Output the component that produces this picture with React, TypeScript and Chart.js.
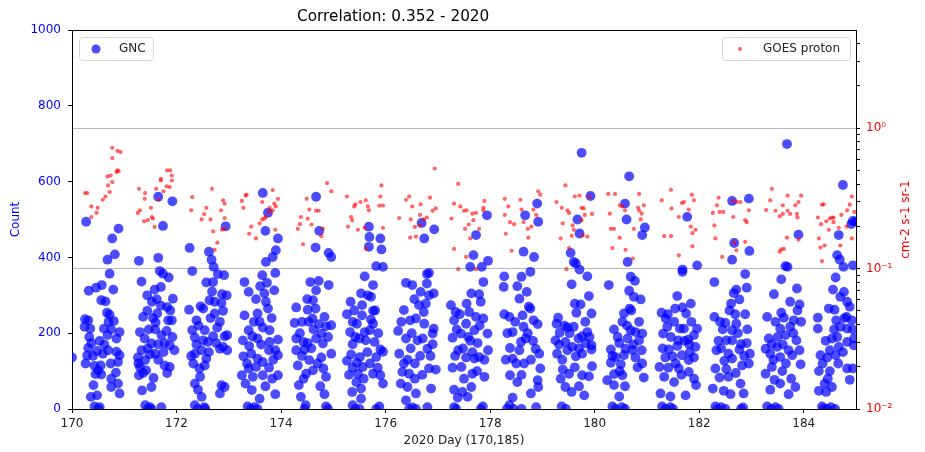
import { useEffect, useRef } from "react";
import { Chart, registerables } from "chart.js";

Chart.register(...registerables);

// Axis ticks
const dayTicks = [170, 172, 174, 176, 178, 180, 182, 184];
const countTicks = [0, 200, 400, 600, 800, 1000];
const fluxDecades = [0.01, 0.1, 1];
const fluxDecadeLabels = ["10⁻²", "10⁻¹", "10⁰"];
const fluxMinorTicks = [
  0.02, 0.03, 0.04, 0.05, 0.06, 0.07, 0.08, 0.09,
  0.2, 0.3, 0.4, 0.5, 0.6, 0.7, 0.8, 0.9,
  2, 3, 4,
];

// GNC neutron counts: [day of 2020, count]
const gncSamples: [number, number][] = [
  [170.00,136],[170.27,494],[170.89,476],[170.77,450],[170.68,394],[170.82,408],[170.72,357],[170.32,312],[170.46,320],[170.57,327],[170.79,315],[170.56,287],[170.64,284],[170.67,254],[170.72,249],[170.25,237],[170.31,234],[170.70,230],[170.61,212],[170.75,210],[170.24,217],[170.91,203],[170.68,195],[170.37,174],[170.53,180],[170.85,186],[170.31,161],[170.29,141],[170.48,153],[170.59,146],[170.69,155],[170.85,151],[170.91,142],[170.88,124],[170.74,120],[170.43,114],[170.55,115],[170.45,92],[170.56,91],[170.75,80],[170.88,67],[170.41,63],[170.75,58],[170.48,36],[170.36,32],[170.91,41],[170.43,7],[170.53,5],[170.50,0],
  [170.33,190],[170.40,140],[170.62,170],[170.80,232],[170.50,102],[170.35,212],[170.84,96],[170.26,120],
  [171.65,560],[171.92,548],[171.74,483],[171.28,391],[171.65,399],[171.33,336],[171.68,364],[171.74,357],[171.85,347],[171.58,315],[171.70,322],[171.93,291],[171.53,283],[171.70,273],[171.82,269],[171.44,259],[171.36,243],[171.63,252],[171.84,234],[171.91,234],[171.60,228],[171.47,210],[171.30,203],[171.59,210],[171.81,206],[171.71,195],[171.92,190],[171.39,186],[171.52,173],[171.65,171],[171.77,174],[171.87,168],[171.33,155],[171.49,144],[171.59,146],[171.96,155],[171.26,136],[171.40,129],[171.65,130],[171.77,115],[171.87,111],[171.30,111],[171.42,102],[171.28,89],[171.56,82],[171.82,95],[171.52,58],[171.34,49],[171.40,10],[171.49,5],[171.71,5],[171.45,0],[171.52,0],
  [171.27,120],[171.36,95],[171.45,160],[171.55,240],[171.75,150],[171.62,290],[171.44,300],[171.88,260],
  [172.25,425],[172.30,364],[172.94,482],[172.62,415],[172.67,394],[172.71,375],[172.79,356],[172.91,353],[172.57,334],[172.70,335],[172.87,303],[172.73,283],[172.63,287],[172.24,262],[172.46,271],[172.51,265],[172.86,280],[172.89,259],[172.73,252],[172.38,234],[172.83,230],[172.30,208],[172.54,208],[172.35,189],[172.51,181],[172.60,177],[172.70,192],[172.76,174],[172.92,192],[172.35,146],[172.48,155],[172.57,133],[172.32,120],[172.44,107],[172.54,115],[172.83,159],[172.89,164],[172.35,67],[172.41,51],[172.48,32],[172.35,10],[172.53,5],[172.86,63],[172.92,58],[172.83,41],[172.97,195],[172.97,155],[172.96,300],[172.40,0],[172.55,0],
  [172.42,220],[172.65,240],[172.78,215],[172.38,170],[172.62,150],[172.45,85],[172.28,140],[172.68,310],
  [173.65,570],[173.75,518],[173.70,470],[173.94,450],[173.90,419],[173.84,401],[173.71,388],[173.89,359],[173.64,353],[173.73,333],[173.30,335],[173.38,309],[173.60,324],[173.68,305],[173.87,313],[173.71,283],[173.75,265],[173.30,247],[173.55,252],[173.59,230],[173.65,215],[173.38,208],[173.78,208],[173.27,181],[173.45,192],[173.55,186],[173.94,183],[173.78,177],[173.39,166],[173.89,155],[173.77,155],[173.28,139],[173.43,146],[173.55,133],[173.65,124],[173.94,142],[173.38,107],[173.52,111],[173.77,109],[173.25,89],[173.46,85],[173.65,89],[173.83,80],[173.94,89],[173.32,67],[173.59,27],[173.89,39],[173.36,7],[173.49,5],[173.42,0],[173.55,0],
  [173.48,230],[173.82,240],[173.62,170],[173.35,120],[173.85,130],[173.52,290],[173.70,60],[173.44,50],
  [174.67,560],[174.73,470],[174.66,426],[174.91,412],[174.96,401],[174.56,335],[174.72,338],[174.91,327],[174.67,313],[174.61,287],[174.29,268],[174.51,262],[174.66,265],[174.60,239],[174.83,243],[174.26,227],[174.40,230],[174.53,230],[174.72,224],[174.86,218],[174.96,221],[174.77,199],[174.29,186],[174.43,177],[174.51,174],[174.67,186],[174.29,155],[174.45,157],[174.80,173],[174.96,146],[174.32,115],[174.54,129],[174.77,136],[174.48,93],[174.61,102],[174.81,107],[174.86,85],[174.34,63],[174.38,32],[174.47,10],[174.83,39],[174.86,7],[174.43,80],[174.45,0],[174.90,0],
  [174.36,200],[174.58,160],[174.70,120],[174.90,190],[174.40,140],[174.62,210],[174.50,290],[174.75,60],
  [175.68,481],[175.69,454],[175.90,450],[175.68,428],[175.92,421],[175.82,377],[175.95,375],[175.60,350],[175.76,327],[175.53,305],[175.66,300],[175.72,296],[175.33,283],[175.55,274],[175.76,259],[175.26,250],[175.37,230],[175.45,225],[175.55,247],[175.72,236],[175.76,225],[175.70,208],[175.32,203],[175.60,203],[175.50,186],[175.62,181],[175.37,171],[175.79,177],[175.90,157],[175.95,151],[175.34,144],[175.51,137],[175.26,127],[175.45,122],[175.82,137],[175.37,109],[175.56,111],[175.47,93],[175.85,109],[175.76,93],[175.90,89],[175.44,71],[175.53,54],[175.36,45],[175.53,27],[175.37,10],[175.88,7],[175.95,67],[175.42,0],[175.50,0],[175.82,0],
  [175.42,190],[175.65,150],[175.86,200],[175.40,260],[175.58,80],[175.70,120],[175.30,90],[175.80,260],
  [176.69,491],[176.93,474],[176.74,450],[176.79,356],[176.83,359],[176.39,333],[176.51,327],[176.67,309],[176.79,331],[176.92,305],[176.83,300],[176.64,274],[176.77,278],[176.35,261],[176.73,256],[176.47,234],[176.58,239],[176.74,225],[176.92,212],[176.24,206],[176.90,199],[176.39,186],[176.61,181],[176.71,186],[176.80,159],[176.90,171],[176.26,146],[176.42,130],[176.56,120],[176.83,107],[176.96,104],[176.32,98],[176.45,93],[176.56,80],[176.29,67],[176.42,58],[176.58,41],[176.87,54],[176.39,23],[176.51,4],[176.80,5],[176.45,0],[176.58,0],
  [176.50,200],[176.30,230],[176.66,140],[176.86,140],[176.48,160],[176.70,90],[176.55,290],[176.35,120],
  [177.94,511],[177.73,459],[177.68,406],[177.96,391],[177.62,375],[177.84,375],[177.87,335],[177.64,305],[177.79,303],[177.55,278],[177.82,283],[177.25,274],[177.60,256],[177.34,256],[177.73,243],[177.31,234],[177.54,225],[177.87,239],[177.44,199],[177.70,208],[177.95,199],[177.28,188],[177.62,180],[177.76,174],[177.39,155],[177.54,136],[177.70,133],[177.79,137],[177.89,130],[177.96,155],[177.28,109],[177.45,111],[177.66,93],[177.50,80],[177.89,85],[177.31,51],[177.47,45],[177.64,58],[177.38,30],[177.57,32],[177.31,5],[177.86,7],[177.35,0],[177.82,0],
  [177.48,160],[177.36,210],[177.58,190],[177.80,220],[177.42,250],[177.66,150],[177.75,100],[177.33,140],
  [178.90,542],[178.92,494],[178.67,511],[178.64,415],[178.84,401],[178.77,362],[178.27,350],[178.60,349],[178.26,322],[178.52,324],[178.70,309],[178.56,291],[178.77,265],[178.27,250],[178.37,243],[178.62,247],[178.83,234],[178.91,224],[178.64,217],[178.43,203],[178.68,186],[178.59,177],[178.38,161],[178.87,159],[178.94,146],[178.56,155],[178.78,130],[178.43,133],[178.65,120],[178.96,107],[178.38,89],[178.52,71],[178.91,76],[178.78,41],[178.92,58],[178.43,30],[178.37,10],[178.88,5],[178.32,0],[178.45,0],[178.60,0],
  [178.48,230],[178.72,200],[178.33,200],[178.50,120],[178.82,180],[178.60,90],[178.30,130],[178.74,270],
  [179.75,676],[179.92,562],[179.67,500],[179.71,463],[179.54,412],[179.60,388],[179.64,384],[179.71,368],[179.86,350],[179.56,329],[179.89,298],[179.62,278],[179.73,276],[179.94,252],[179.30,241],[179.65,254],[179.27,225],[179.48,215],[179.60,217],[179.86,203],[179.33,201],[179.76,192],[179.90,190],[179.69,186],[179.44,177],[179.57,164],[179.83,173],[179.94,168],[179.28,146],[179.48,155],[179.64,139],[179.76,146],[179.94,157],[179.25,181],[179.39,104],[179.51,93],[179.35,80],[179.76,89],[179.95,113],[179.89,86],[179.44,58],[179.56,45],[179.80,36],[179.37,7],[179.45,0],
  [179.38,130],[179.52,200],[179.70,160],[179.82,230],[179.42,220],[179.62,110],[179.32,170],[179.70,60],
  [180.66,614],[180.58,542],[180.61,500],[180.96,479],[180.91,459],[180.63,388],[180.27,327],[180.69,349],[180.77,338],[180.66,312],[180.75,296],[180.88,289],[180.56,252],[180.67,265],[180.85,230],[180.53,230],[180.37,210],[180.69,208],[180.78,203],[180.91,199],[180.63,186],[180.85,181],[180.47,174],[180.59,159],[180.31,157],[180.72,155],[180.90,155],[180.40,137],[180.56,142],[180.78,136],[180.31,122],[180.50,118],[180.91,120],[180.37,92],[180.53,89],[180.24,76],[180.94,83],[180.37,63],[180.47,33],[180.34,7],[180.52,5],[180.40,0],[180.58,0],
  [180.44,190],[180.62,220],[180.74,170],[180.34,140],[180.48,100],[180.82,110],[180.58,60],[180.70,260],
  [181.77,507],[181.96,379],[181.68,368],[181.68,362],[181.58,298],[181.68,268],[181.84,278],[181.75,252],[181.28,254],[181.36,239],[181.54,265],[181.52,230],[181.63,212],[181.39,217],[181.71,212],[181.31,199],[181.96,212],[181.60,181],[181.79,183],[181.90,195],[181.42,157],[181.58,166],[181.81,171],[181.93,164],[181.35,136],[181.49,139],[181.67,142],[181.80,129],[181.90,136],[181.24,111],[181.41,109],[181.61,107],[181.80,98],[181.33,85],[181.52,71],[181.90,80],[181.94,63],[181.26,41],[181.45,33],[181.74,36],[181.29,7],[181.45,5],[181.35,0],[181.50,0],
  [181.46,190],[181.72,180],[181.85,230],[181.55,120],[181.40,250],[181.66,90],[181.30,160],[181.82,150],
  [182.63,549],[182.95,555],[182.67,438],[182.96,417],[182.63,394],[182.29,335],[182.88,356],[182.71,315],[182.66,306],[182.77,289],[182.61,278],[182.91,320],[182.69,250],[182.88,250],[182.29,243],[182.50,227],[182.45,210],[182.63,208],[182.71,225],[182.37,180],[182.52,181],[182.63,181],[182.80,171],[182.91,174],[182.33,155],[182.56,146],[182.77,157],[182.97,146],[182.31,107],[182.48,127],[182.63,133],[182.82,115],[182.95,120],[182.39,83],[182.56,85],[182.79,67],[182.26,54],[182.47,48],[182.60,39],[182.85,41],[182.31,7],[182.42,5],[182.84,4],[182.35,0],[182.50,0],[182.80,0],
  [182.42,160],[182.58,260],[182.74,200],[182.86,140],[182.40,230],[182.70,95],[182.52,105],[182.92,210],
  [183.68,699],[183.90,460],[183.65,377],[183.69,375],[183.57,342],[183.87,318],[183.43,303],[183.74,283],[183.92,276],[183.57,254],[183.30,243],[183.62,241],[183.81,234],[183.95,230],[183.55,212],[183.74,217],[183.33,186],[183.65,195],[183.86,181],[183.39,171],[183.27,159],[183.49,164],[183.71,155],[183.92,155],[183.36,146],[183.55,137],[183.78,142],[183.94,118],[183.39,111],[183.59,100],[183.27,93],[183.44,77],[183.55,67],[183.84,58],[183.71,39],[183.36,51],[183.30,7],[183.46,5],[183.38,0],[183.52,0],
  [183.46,230],[183.60,170],[183.80,200],[183.42,130],[183.66,120],[183.50,190],[183.76,80],[183.88,260],
  [184.75,591],[184.94,496],[184.91,488],[184.67,459],[184.64,406],[184.69,394],[184.76,375],[184.94,379],[184.61,347],[184.56,315],[184.77,309],[184.70,296],[184.83,283],[184.48,265],[184.59,262],[184.27,241],[184.62,234],[184.82,243],[184.92,234],[184.27,212],[184.70,217],[184.83,212],[184.94,210],[184.54,186],[184.64,190],[184.83,177],[184.96,186],[184.50,155],[184.67,164],[184.96,168],[184.32,142],[184.45,136],[184.61,142],[184.83,107],[184.94,107],[184.29,100],[184.50,100],[184.40,67],[184.88,77],[184.54,58],[184.29,48],[184.43,45],[184.35,7],[184.52,5],[184.99,495],[184.38,0],[184.45,0],[184.60,0],
  [184.42,180],[184.58,210],[184.75,150],[184.88,270],[184.36,120],[184.66,120],[184.78,240],[184.46,80],
];

// GOES proton flux: [day of 2020, cm-2 s-1 sr-1]
const goesSamples: [number, number][] = [
  [170.25,0.345],[170.29,0.345],[170.37,0.277],[170.37,0.233],[170.49,0.271],[170.47,0.249],[170.59,0.309],[170.64,0.326],[170.72,0.351],[170.69,0.391],[170.77,0.413],[170.68,0.453],[170.74,0.460],[170.85,0.487],[170.89,0.494],[170.87,0.500],[170.77,0.612],[170.77,0.725],[170.87,0.688],[170.93,0.676],
  [171.28,0.370],[171.40,0.345],[171.39,0.314],[171.51,0.271],[171.30,0.260],[171.26,0.249],[171.38,0.217],[171.45,0.221],[171.55,0.227],[171.58,0.198],[171.53,0.233],[171.66,0.309],[171.70,0.424],[171.70,0.435],[171.75,0.355],[171.81,0.385],[171.87,0.381],[171.82,0.500],[171.88,0.500],[171.91,0.460],[171.91,0.424],[171.61,0.370],
  [172.30,0.323],[172.28,0.260],[172.48,0.224],[172.53,0.244],[172.57,0.271],[172.65,0.224],[172.68,0.370],[172.70,0.184],[172.78,0.153],[172.73,0.136],[172.85,0.260],[172.89,0.306],[172.92,0.290],[172.92,0.229],[172.87,0.189],[172.92,0.192],
  [173.25,0.303],[173.28,0.271],[173.32,0.331],[173.34,0.336],[173.43,0.199],[173.39,0.177],[173.52,0.164],[173.59,0.210],[173.64,0.224],[173.68,0.227],[173.71,0.233],[173.77,0.253],[173.78,0.271],[173.84,0.260],[173.90,0.277],[173.94,0.314],[173.87,0.290],[173.64,0.298],[173.84,0.362],[173.89,0.189],
  [174.49,0.314],[174.54,0.263],[174.67,0.258],[174.72,0.258],[174.38,0.233],[174.51,0.227],[174.36,0.207],[174.32,0.192],[174.58,0.206],[174.80,0.192],[174.77,0.170],[174.42,0.149],[174.88,0.406],[174.96,0.355],
  [175.26,0.326],[175.42,0.287],[175.40,0.277],[175.52,0.298],[175.62,0.306],[175.66,0.277],[175.68,0.260],[175.34,0.233],[175.36,0.221],[175.28,0.199],[175.47,0.189],[175.60,0.195],[175.63,0.138],[175.92,0.391],[175.90,0.326],[175.95,0.281],[175.95,0.195],[175.88,0.281],
  [176.26,0.229],[176.39,0.309],[176.45,0.326],[176.51,0.277],[176.48,0.224],[176.47,0.166],[176.58,0.169],[176.56,0.198],[176.66,0.241],[176.67,0.287],[176.73,0.224],[176.79,0.231],[176.85,0.320],[176.90,0.258],[176.96,0.268],[176.94,0.516],[176.66,0.203],
  [177.39,0.401],[177.31,0.290],[177.43,0.277],[177.50,0.258],[177.26,0.227],[177.66,0.246],[177.55,0.260],[177.73,0.249],[177.68,0.221],[177.52,0.192],[177.59,0.206],[177.79,0.192],[177.62,0.164],[177.31,0.138],[177.54,0.121],[177.39,0.099],[177.73,0.099],[177.87,0.260],[177.89,0.303],[177.87,0.271],
  [178.28,0.314],[178.35,0.277],[178.28,0.241],[178.38,0.214],[178.46,0.207],[178.58,0.309],[178.60,0.263],[178.64,0.214],[178.72,0.192],[178.73,0.166],[178.79,0.199],[178.88,0.241],[178.92,0.355],[178.96,0.336],[178.83,0.263],[178.30,0.177],[178.41,0.134],
  [179.27,0.298],[179.37,0.271],[179.39,0.210],[179.44,0.391],[179.48,0.260],[179.51,0.249],[179.58,0.203],[179.60,0.189],[179.56,0.171],[179.35,0.164],[179.51,0.140],[179.46,0.099],[179.62,0.326],[179.71,0.331],[179.75,0.271],[179.79,0.268],[179.81,0.241],[179.90,0.323],[179.95,0.245],[179.75,0.221],[179.77,0.173],[179.86,0.169],
  [180.26,0.340],[180.39,0.340],[180.48,0.282],[180.53,0.277],[180.58,0.260],[180.29,0.246],[180.31,0.192],[180.37,0.192],[180.48,0.166],[180.34,0.140],[180.59,0.136],[180.73,0.118],[180.75,0.192],[180.85,0.340],[180.83,0.271],[180.90,0.246],[180.88,0.224],[180.94,0.282],[180.85,0.258],
  [181.28,0.306],[181.46,0.364],[181.47,0.268],[181.61,0.233],[181.67,0.293],[181.71,0.298],[181.80,0.263],[181.86,0.336],[181.90,0.306],[181.87,0.179],[181.93,0.189],[181.84,0.199],[181.33,0.170],[181.46,0.170],[181.61,0.124],[181.87,0.144],
  [182.37,0.320],[182.34,0.282],[182.39,0.253],[182.46,0.253],[182.26,0.249],[182.29,0.203],[182.31,0.164],[182.44,0.121],[182.64,0.303],[182.72,0.298],[182.79,0.298],[182.65,0.233],[182.88,0.221],[182.91,0.214],[182.95,0.260],[182.67,0.153],[182.71,0.135],[182.88,0.155],
  [183.39,0.370],[183.36,0.306],[183.28,0.261],[183.46,0.258],[183.54,0.236],[183.60,0.245],[183.69,0.258],[183.74,0.245],[183.69,0.331],[183.60,0.282],[183.84,0.282],[183.90,0.298],[183.95,0.331],[183.87,0.245],[183.88,0.231],[183.68,0.166],[183.90,0.161],[183.57,0.137],[183.62,0.138],[183.54,0.132],
  [184.27,0.231],[184.35,0.285],[184.38,0.287],[184.43,0.217],[184.50,0.227],[184.54,0.231],[184.57,0.231],[184.57,0.214],[184.48,0.189],[184.67,0.195],[184.33,0.207],[184.29,0.164],[184.32,0.141],[184.40,0.146],[184.35,0.113],[184.70,0.146],[184.72,0.241],[184.82,0.199],[184.83,0.260],[184.88,0.285],[184.92,0.326],[184.97,0.253],[184.92,0.164],
];

const FONT = '"DejaVu Sans", "Liberation Sans", sans-serif';
const GNC_COLOR = "rgba(0, 0, 255, 0.7)";
const GOES_COLOR = "rgba(255, 0, 0, 0.6)";

const isDecade = (v: number) => fluxDecades.some((d) => Math.abs(d - v) < d * 1e-6);

// Title, frame, axis titles and the two corner legends
const decorations = {
  id: "decorations",
  afterDraw(chart: Chart) {
    const { ctx, chartArea: a } = chart;
    ctx.save();
    // top spine
    ctx.strokeStyle = "#000";
    ctx.lineWidth = 1;
    ctx.beginPath();
    ctx.moveTo(a.left, a.top + 0.5);
    ctx.lineTo(a.right, a.top + 0.5);
    ctx.stroke();

    // title
    ctx.fillStyle = "#000";
    ctx.font = `15.3px ${FONT}`;
    ctx.textAlign = "left";
    ctx.textBaseline = "middle";
    ctx.fillText("Correlation: 0.352 - 2020", 297, 17);

    // x axis title
    ctx.fillStyle = "#222";
    ctx.font = `12px ${FONT}`;
    ctx.textAlign = "center";
    ctx.fillText("2020 Day (170,185)", (a.left + a.right) / 2, 441);

    const midY = (a.top + a.bottom) / 2;
    // left axis title
    ctx.save();
    ctx.translate(16, midY);
    ctx.rotate(-Math.PI / 2);
    ctx.fillStyle = "blue";
    ctx.fillText("Count", 0, 0);
    ctx.restore();
    // right axis title
    ctx.save();
    ctx.translate(906, midY);
    ctx.rotate(-Math.PI / 2);
    ctx.fillStyle = "red";
    ctx.fillText("cm-2 s-1 sr-1", 0, 0);
    ctx.restore();

    // legends
    const box = (x: number, y: number, w: number, h: number) => {
      ctx.beginPath();
      ctx.roundRect(x + 0.5, y + 0.5, w, h, 3);
      ctx.fillStyle = "rgba(255,255,255,0.8)";
      ctx.fill();
      ctx.strokeStyle = "#d6d6d6";
      ctx.stroke();
    };
    ctx.font = `12px ${FONT}`;
    ctx.textAlign = "left";
    ctx.textBaseline = "middle";

    box(a.left + 7, a.top + 7, 74, 23);
    ctx.beginPath();
    ctx.arc(a.left + 24, a.top + 19, 4.5, 0, Math.PI * 2);
    ctx.fillStyle = GNC_COLOR;
    ctx.fill();
    ctx.fillStyle = "#222";
    ctx.fillText("GNC", a.left + 47, a.top + 19);

    box(a.right - 134, a.top + 7, 128, 23);
    ctx.beginPath();
    ctx.arc(a.right - 116, a.top + 19, 2, 0, Math.PI * 2);
    ctx.fillStyle = GOES_COLOR;
    ctx.fill();
    ctx.fillStyle = "#222";
    ctx.fillText("GOES proton", a.right - 93, a.top + 19);
    ctx.restore();
  },
};

export default function App() {
  const canvasRef = useRef<HTMLCanvasElement | null>(null);

  useEffect(() => {
    const canvas = canvasRef.current;
    if (!canvas) return;
    const chart = new Chart(canvas, {
      type: "scatter",
      data: {
        datasets: [
          {
            label: "GNC",
            data: gncSamples.map(([x, y]) => ({ x, y })),
            yAxisID: "y",
            backgroundColor: GNC_COLOR,
            borderWidth: 0,
            pointRadius: 4.9,
            order: 1,
            clip: 0,
          },
          {
            label: "GOES proton",
            data: goesSamples.map(([x, y]) => ({ x, y })),
            yAxisID: "y1",
            backgroundColor: GOES_COLOR,
            borderWidth: 0,
            pointRadius: 2.1,
            order: 0,
            clip: 0,
          },
        ],
      },
      options: {
        responsive: false,
        animation: false,
        layout: { padding: { top: 30, left: 0, right: 0, bottom: 0 } },
        plugins: {
          legend: { display: false },
          title: { display: false },
          tooltip: { enabled: false },
        },
        scales: {
          x: {
            type: "linear",
            min: 170,
            max: 185,
            afterBuildTicks: (s: any) => {
              s.ticks = dayTicks.map((value) => ({ value }));
            },
            afterFit: (s: any) => {
              s.height = 43;
            },
            ticks: {
              color: "#222",
              font: { family: FONT, size: 12 },
              padding: 4,
              maxRotation: 0,
              callback: (value: any) => String(value),
            },
            grid: { drawOnChartArea: false, tickLength: 4, color: "#000" },
            border: { color: "#000" },
          },
          y: {
            type: "linear",
            position: "left",
            min: 0,
            max: 1000,
            afterBuildTicks: (s: any) => {
              s.ticks = countTicks.map((value) => ({ value }));
            },
            afterFit: (s: any) => {
              s.width = 72;
            },
            ticks: {
              color: "blue",
              font: { family: FONT, size: 12 },
              padding: 7,
              callback: (value: any) => String(value),
            },
            grid: { drawOnChartArea: false, tickLength: 4, color: "#000" },
            border: { color: "#000" },
          },
          y1: {
            type: "logarithmic",
            position: "right",
            min: 0.01,
            max: 5,
            afterBuildTicks: (s: any) => {
              s.ticks = [...fluxDecades, ...fluxMinorTicks]
                .sort((p, q) => p - q)
                .map((value) => ({ value, major: isDecade(value) }));
            },
            afterFit: (s: any) => {
              s.width = 69;
            },
            ticks: {
              color: "red",
              font: { family: FONT, size: 12 },
              padding: 6,
              autoSkip: false,
              callback: (value: any) => {
                const i = fluxDecades.findIndex((d) => Math.abs(d - Number(value)) < d * 1e-6);
                return i >= 0 ? fluxDecadeLabels[i] : "";
              },
            },
            grid: {
              tickLength: 4,
              color: (c: any) => {
                const v = c.tick ? c.tick.value : 0;
                return isDecade(v) && v > 0.05 ? "#b8b8b8" : "rgba(0,0,0,0)";
              },
              tickColor: "#000",
            },
            border: { color: "#000" },
          },
        },
      },
      plugins: [decorations],
    });
    return () => chart.destroy();
  }, []);

  return (
    <div style={{ position: "absolute", left: 0, top: 0, width: 925, height: 452, background: "#fff" }}>
      <canvas ref={canvasRef} width={925} height={452} style={{ width: 925, height: 452 }} />
    </div>
  );
}
